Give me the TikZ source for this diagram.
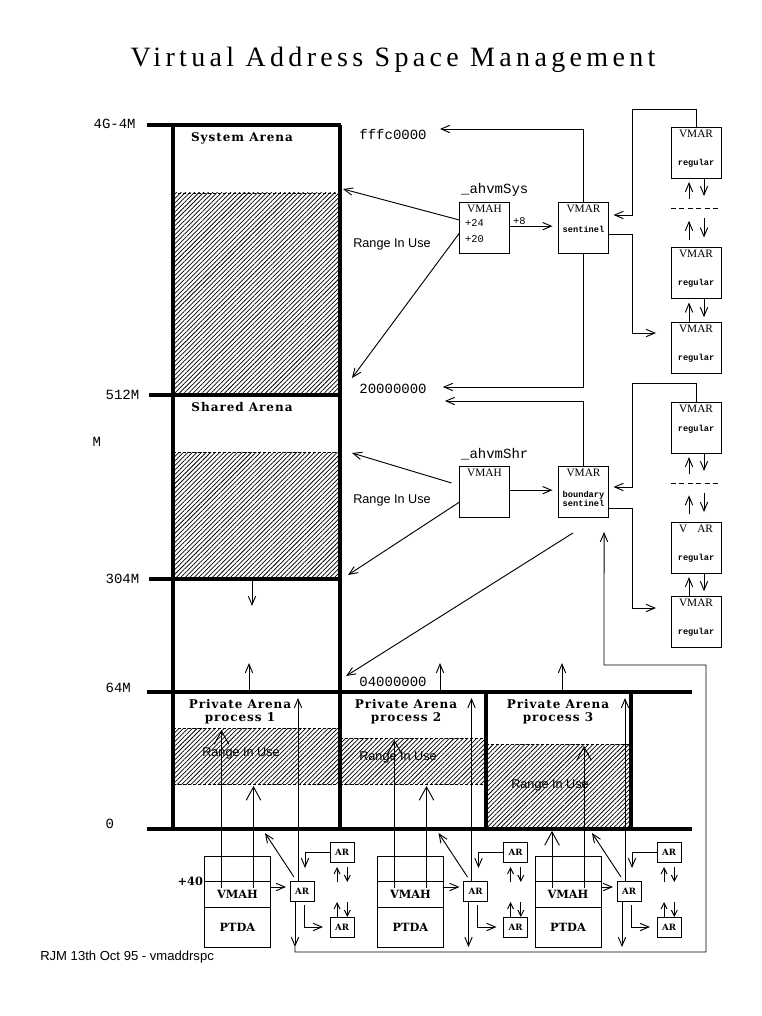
\documentclass[tikz,border=0pt]{standalone}
\usepackage{fontspec}
\setmainfont{Liberation Serif}
\setsansfont{Liberation Sans}
\setmonofont{Liberation Mono}
\newfontfamily\titlefont[LetterSpace=15.5]{Liberation Serif}
\newfontfamily\arenafont[LetterSpace=8]{DejaVu Serif}
\newfontfamily\unitfont{DejaVu Serif}
\usepackage{tikz}
\usetikzlibrary{arrows.meta, positioning, calc, patterns.meta}

\begin{document}
\begin{tikzpicture}[x=0.75pt, y=-0.75pt,
  >={Straight Barb[length=6.5pt,width=5.5pt]},
  wire/.style={line width=0.7pt},
  link/.style={wire, ->},
  bigtip/.style={-{Straight Barb[length=10pt,width=11pt]}},
  smalltip/.style={-{Straight Barb[length=4.5pt,width=4.5pt]}},
  wall/.style={line width=2.4pt},
  used/.style={pattern={Lines[angle=45, distance=2.4pt, line width=0.55pt]}},
  usededge/.style={wire, dash pattern=on 2.25pt off 1.5pt},
  gapline/.style={wire, dash pattern=on 3.75pt off 2.6pt},
  title/.style={font=\titlefont\fontsize{21}{24}\selectfont},
  addr/.style={font=\ttfamily\fontsize{10.5}{12}\selectfont, inner sep=1pt},
  offs/.style={font=\ttfamily\fontsize{7.8}{9}\selectfont, inner sep=1pt},
  rangetext/.style={font=\sffamily\fontsize{9.5}{11}\selectfont, inner sep=0pt},
  arenatext/.style={font=\arenafont\bfseries\fontsize{9}{9.5}\selectfont, align=center, inner sep=0pt},
  boxhead/.style={font=\fontsize{8.5}{9}\selectfont, inner sep=2pt},
  tinytext/.style={font=\ttfamily\bfseries\fontsize{6.5}{6.75}\selectfont, align=center, inner sep=0pt},
  box/.style={draw, wire, inner sep=0pt, outer sep=0pt},
  vmar/.style={box, minimum width=37.5pt, minimum height=38.25pt,
    label={[boxhead, anchor=north]north:#1}},
  vmar/.default=VMAR,
  kind/.style args={#1 at #2}{label={[tinytext, anchor=center, yshift=#2]south:#1}},
  unit/.style={box, minimum width=49.5pt, font=\unitfont\bfseries\fontsize{8.5}{10}\selectfont},
  arbox/.style={box, minimum width=18pt, minimum height=15pt, font=\unitfont\bfseries\fontsize{6.5}{7}\selectfont}]

  \useasboundingbox (0,0) rectangle (762,1016);

  \node[title] (title) at (393,60) {Virtual Address Space Management};

  \path[used] (173,193) rectangle (340,395);
  \path[used] (173,452) rectangle (340,579);
  \path[used] (173,728) rectangle (340,784);
  \path[used] (340,738) rectangle (486,784);
  \path[used] (486,744) rectangle (631,829);
  \draw[usededge] (173,193) -- (340,193);
  \draw[usededge] (173,452) -- (340,452);
  \draw[usededge] (173,728) -- (340,728);
  \draw[usededge] (173,784) -- (340,784);
  \draw[usededge] (340,738) -- (486,738);
  \draw[usededge] (340,784) -- (486,784);
  \draw[usededge] (486,744) -- (631,744);

  \draw[wall] (147,125) -- (341,125);
  \draw[wall] (173,125) -- (173,829);
  \draw[wall] (340,125) -- (340,829);
  \draw[wall] (149,395) -- (340,395);
  \draw[wall] (149,579) -- (340,579);
  \draw[wall] (147,692) -- (692,692);
  \draw[wall] (147,829) -- (692,829);
  \draw[wall] (486,692) -- (486,829);
  \draw[wall] (631,692) -- (631,829);

  \node[addr, anchor=west] (lbltop) at (92,124) {4G-4M};
  \node[addr, anchor=west] (lbl512) at (104,395) {512M};
  \node[addr, anchor=west] (lblm) at (91,442) {M};
  \node[addr, anchor=west] (lbl304) at (104,579) {304M};
  \node[addr, anchor=west] (lbl64) at (104,688) {64M};
  \node[addr, anchor=west] (lblzero) at (104,824) {0};

  \node[arenatext] (sysname) at (242,138) {System Arena};
  \node[arenatext] (shrname) at (242,407) {Shared Arena};
  \node[arenatext] (p1name) at (240,712) {Private Arena\\process 1};
  \node[arenatext] (p2name) at (406,712) {Private Arena\\process 2};
  \node[arenatext] (p3name) at (558,712) {Private Arena\\process 3};

  \node[rangetext] (sysrange) at (392,244) {Range In Use};
  \node[rangetext] (shrrange) at (392,500) {Range In Use};
  \node[rangetext] (p1range) at (241,753) {Range In Use};
  \node[rangetext] (p2range) at (398,757) {Range In Use};
  \node[rangetext] (p3range) at (550,785) {Range In Use};

  \node[addr] (lblfffc) at (393,134) {fffc0000};
  \node[addr] (lbl2000) at (393,389) {20000000};
  \node[addr] (lbl0400) at (393,682) {04000000};

  \node[vmar=VMAH, label={[addr, anchor=south west, yshift=3pt]north west:\_ahvmSys}] (sysvmah) at (484.5,227.5) {};
  \node[offs, anchor=west] (off24) at ([xshift=3pt,yshift=3.4pt]sysvmah.west) {+24};
  \node[offs, anchor=west] (off20) at ([xshift=3pt,yshift=-8.6pt]sysvmah.west) {+20};
  \node[vmar, kind={sentinel at 18pt}] (sysstl) at (583.5,227.5) {};
  \node[vmar, kind={regular at 11.25pt}] (sysr1) at (696,152.5) {};
  \node[vmar, kind={regular at 11.25pt}] (sysr2) at (696,273) {};
  \node[vmar, kind={regular at 11.25pt}] (sysr3) at (696,348) {};

  \node[vmar=VMAH, label={[addr, anchor=south west, yshift=3pt]north west:\_ahvmShr}] (shrvmah) at (484.5,491.5) {};
  \node[vmar, kind={boundary\\sentinel at 13.9pt}] (shrstl) at (583.5,491.5) {};
  \node[vmar, kind={regular at 18pt}] (shrr1) at (696,427.5) {};
  \node[vmar={V\phantom{M}AR}, kind={regular at 11.25pt}] (shrr2) at (696,547.5) {};
  \node[vmar, kind={regular at 11.25pt}] (shrr3) at (696,622) {};

  \coordinate (sysuse) at (343,189);
  \coordinate (sysbase) at (352,378);
  \coordinate (shruse) at (352,453);
  \coordinate (shrbase) at (348,575);
  \coordinate (shrlow) at (252,579);

  \draw[link] ([yshift=5.6pt]sysvmah.west) -- (sysuse);
  \draw[link] ([yshift=-4.1pt]sysvmah.west) -- (sysbase);
  \draw[link, shorten >=4.5pt] ([yshift=1pt]sysvmah.east) --
    node[offs, above, pos=0.2] (plus8) {+8} ([yshift=1pt]sysstl.west);
  \draw[link] (sysstl.north) |- ([xshift=8.8pt,yshift=3.75pt]lblfffc.east);
  \draw[link] (sysstl.south) |- ([xshift=11pt,yshift=1.5pt]lbl2000.east);
  \draw[link, shorten >=3.75pt] (sysr1.north) |- (632,109) |- (sysstl.east |- 0,215);
  \draw[link, shorten >=11.25pt] ([yshift=-4.9pt]sysstl.east) -| (632,333) -- (sysr3.west |- 0,333);

  \draw[link] ([xshift=-6pt,yshift=6.4pt]shrvmah.west) -- (shruse);
  \draw[link] ([yshift=-7.9pt]shrvmah.west) -- (shrbase);
  \draw[link, shorten >=4.5pt] ([yshift=1pt]shrvmah.east) -- ([yshift=1pt]shrstl.west);
  \draw[link] (shrstl.north) |- ([xshift=12.5pt,yshift=-9pt]lbl2000.east);
  \draw[link, shorten >=3.75pt] (shrr1.north) |- (632,383) |- (shrstl.east |- 0,487);
  \draw[link, shorten >=11.25pt] ([yshift=-12.4pt]shrstl.east) -| (632,608) -- (shrr3.west |- 0,608);
  \draw[link] ([xshift=-7.9pt,yshift=-12pt]shrstl.south) -- ([xshift=-8.8pt,yshift=4.5pt]lbl0400.west);

  \foreach \col in {sys, shr} {
    \draw[gapline] ([yshift=-22.5pt]\col r1.south west) -- ([yshift=-22.5pt]\col r1.south east);
    \draw[link] ([xshift=-5.25pt,yshift=-16pt]\col r1.south) -- ([xshift=-5.25pt,yshift=-3pt]\col r1.south);
    \draw[link] ([xshift=6pt]\col r1.south) -- ([xshift=6pt,yshift=-13.5pt]\col r1.south);
    \draw[link] ([xshift=-5.25pt,yshift=6pt]\col r2.north) -- ([xshift=-5.25pt,yshift=20pt]\col r2.north);
    \draw[link] ([xshift=6pt,yshift=22pt]\col r2.north) -- ([xshift=6pt,yshift=7.5pt]\col r2.north);
    \draw[link, shorten >=3pt] ([xshift=-5.25pt]\col r3.north) -- ([xshift=-5.25pt]\col r2.south);
    \draw[link, shorten >=4pt] ([xshift=6pt]\col r2.south) -- ([xshift=6pt]\col r3.north);
  }

  \draw[link] (shrlow) -- ++(0,27);
  \foreach \x in {249,440,562}
    \draw[link] (\x,692) -- ++(0,-29);

  \foreach \n/\vx/\ax/\ya/\yb in {1/237.5/302/730/786, 2/410.5/475.5/740/786, 3/568/629/831/746} {
    \node[unit, minimum height=30pt] (p\n ptda) at (\vx,927) {PTDA};
    \node[unit, minimum height=19.5pt, above=0pt of p\n ptda] (p\n vmah) {VMAH};
    \node[unit, minimum height=18.75pt, above=0pt of p\n vmah] (p\n head) {};
    \node[arbox] (p\n ar) at (\ax,891) {AR};
    \node[arbox, above right=14.25pt and 12pt of p\n ar] (p\n aru) {AR};
    \node[arbox, below right=12pt and 12pt of p\n ar] (p\n arl) {AR};
    \coordinate (p\n rangea) at (\vx-16,\ya);
    \coordinate (p\n rangeb) at (\vx+16,\yb);
    \coordinate (p\n reach) at (\ax-4,698);
    \coordinate (p\n base) at (\ax-37,833);
    \draw[link, bigtip] ([xshift=-12pt,yshift=4.5pt]p\n vmah.center) -- (p\n rangea);
    \draw[link, bigtip] ([xshift=12pt,yshift=4.5pt]p\n vmah.center) -- (p\n rangeb);
    \draw[link, shorten >=3pt] ([yshift=5.25pt]p\n vmah.east) -- ([yshift=3pt]p\n ar.west);
    \draw[link, shorten >=9.75pt] (p\n aru.west) -| ([xshift=2.25pt]p\n ar.north);
    \draw[link, shorten <=3pt, shorten >=5.25pt] ([xshift=1.5pt]p\n ar.south) |- (p\n arl.west);
    \draw[link] ([xshift=-3pt]p\n ar.north) -- (p\n reach);
    \draw[link] ([xshift=-6pt,yshift=3pt]p\n ar.north) -- (p\n base);
    \draw[link] ([xshift=-5.25pt]p\n ar.south) -- ++(0,46) coordinate (p\n down);
    \draw[wire, smalltip] ([xshift=-3.75pt,yshift=-15pt]p\n aru.south) -- ([xshift=-3.75pt,yshift=-3.75pt]p\n aru.south);
    \draw[wire, smalltip] ([xshift=4pt,yshift=-3.75pt]p\n aru.south) -- ([xshift=4pt,yshift=-15pt]p\n aru.south);
    \draw[wire, smalltip] ([xshift=-3.75pt]p\n arl.north) -- ([xshift=-3.75pt,yshift=11.25pt]p\n arl.north);
    \draw[wire, smalltip] ([xshift=4pt,yshift=11.25pt]p\n arl.north) -- ([xshift=4pt]p\n arl.north);
  }

  \node[font=\unitfont\bfseries\fontsize{8.5}{10}\selectfont, anchor=east, inner sep=1pt] (p1offset) at (p1vmah.north west) {+40};

  \draw[link] (p1down) |- (706,952) |- (604,665) -- ([xshift=15.4pt,yshift=-11.25pt]shrstl.south);

  \node[anchor=west, font=\sffamily\fontsize{9.8}{11}\selectfont, inner sep=0pt] (credit) at (40,957) {RJM 13th Oct 95 - vmaddrspc};

\end{tikzpicture}
\end{document}
